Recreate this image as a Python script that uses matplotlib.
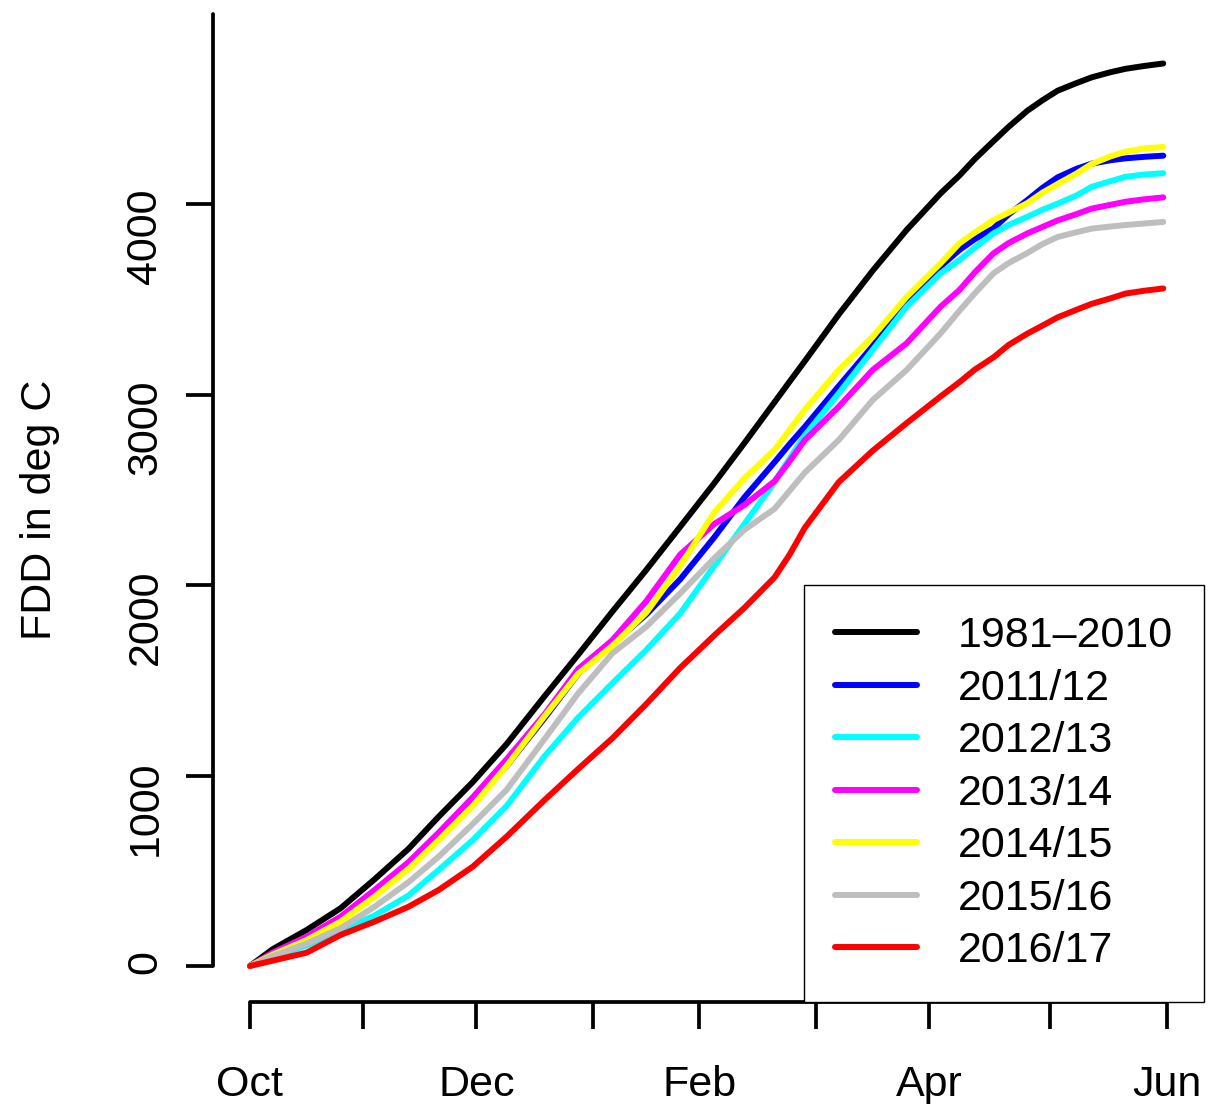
import matplotlib
matplotlib.use('Agg')
import matplotlib.pyplot as plt

plt.rcParams['font.family'] = ['Liberation Sans', 'DejaVu Sans']

# days since 1 October
days = [0, 6, 15, 24, 33, 42, 50, 59, 68, 78, 87, 96, 105, 114, 123, 131, 139, 143,
        147, 156, 165, 174, 183, 188, 192, 197, 201, 206, 210, 214, 219, 223, 228,
        232, 237, 242]

fdd_1981_2010 = [0, 88, 189, 303, 455, 615, 784, 965, 1165, 1415, 1635, 1860, 2079, 2306,
                 2534, 2745, 2960, 3068, 3175, 3420, 3650, 3864, 4056, 4150, 4235, 4330,
                 4405, 4490, 4545, 4595, 4635, 4665, 4692, 4710, 4725, 4738]
fdd_2011 = [0, 65, 145, 245, 385, 525, 685, 860, 1050, 1300, 1535, 1690, 1845, 2030, 2250,
            2460, 2645, 2740, 2830, 3044, 3254, 3481, 3673, 3759, 3815, 3872, 3945, 4021,
            4085, 4140, 4185, 4212, 4230, 4240, 4248, 4254]
fdd_2012 = [0, 48, 108, 185, 265, 370, 504, 660, 840, 1100, 1305, 1484, 1659, 1851, 2100,
            2320, 2540, 2665, 2785, 3006, 3234, 3461, 3636, 3706, 3770, 3846, 3890, 3933,
            3970, 4002, 4045, 4090, 4120, 4143, 4155, 4162]
fdd_2013 = [0, 70, 154, 259, 399, 545, 700, 885, 1085, 1320, 1560, 1710, 1915, 2160, 2320,
            2420, 2545, 2650, 2760, 2936, 3129, 3269, 3461, 3549, 3640, 3741, 3795, 3846,
            3880, 3914, 3947, 3976, 3996, 4012, 4025, 4035]
fdd_2014 = [0, 60, 136, 233, 364, 510, 661, 840, 1050, 1310, 1535, 1680, 1855, 2100, 2380,
            2560, 2710, 2815, 2920, 3129, 3303, 3513, 3689, 3794, 3850, 3916, 3955, 4005,
            4060, 4105, 4160, 4210, 4250, 4275, 4292, 4300]
fdd_2015 = [0, 52, 118, 198, 311, 440, 574, 745, 925, 1190, 1432, 1641, 1781, 1956, 2140,
            2290, 2400, 2495, 2590, 2761, 2971, 3129, 3321, 3440, 3530, 3636, 3690, 3743,
            3790, 3827, 3852, 3871, 3882, 3890, 3898, 3906]
fdd_2016 = [0, 28, 70, 163, 233, 311, 399, 521, 679, 870, 1035, 1195, 1375, 1565, 1735,
            1880, 2040, 2160, 2300, 2540, 2705, 2850, 2990, 3065, 3130, 3195, 3260, 3320,
            3362, 3405, 3445, 3476, 3505, 3530, 3545, 3557]

labels = ['1981–2010', '2011/12', '2012/13', '2013/14', '2014/15', '2015/16', '2016/17']
colors = ['black', '#0000FF', '#00FFFF', '#FF00FF', '#FFFF00', '#BEBEBE', '#FF0000']
series = [fdd_1981_2010, fdd_2011, fdd_2012, fdd_2013, fdd_2014, fdd_2015, fdd_2016]

month_ticks = [0, 30, 60, 91, 119, 150, 180, 212, 243]
month_labels = ['Oct', '', 'Dec', '', 'Feb', '', 'Apr', '', 'Jun']
y_ticks = [0, 1000, 2000, 3000, 4000]

fig = plt.figure(figsize=(12.09, 11.04), dpi=100)
ax = fig.add_axes([0.17643, 0.09221, 0.81919, 0.88342])

for vals, col, lab in zip(series, colors, labels):
    ax.plot(days, vals, color=col, lw=4.3, label=lab,
            solid_capstyle='round', solid_joinstyle='round')

ax.set_xlim(-9.72, 252.72)
ax.set_ylim(-190, 4930)

ax.spines['top'].set_visible(False)
ax.spines['right'].set_visible(False)
for s in ['left', 'bottom']:
    ax.spines[s].set_linewidth(2.7)
    ax.spines[s].set_capstyle('round')
ax.spines['left'].set_bounds(0, 5000)
ax.spines['bottom'].set_bounds(0, 243)

ax.set_xticks(month_ticks)
ax.set_xticklabels(month_labels)
ax.set_yticks(y_ticks)
ax.set_yticklabels([str(v) for v in y_ticks])
ax.tick_params(length=19.5, width=2.7, labelsize=31)
ax.tick_params(axis='y', labelrotation=90, pad=15)
ax.tick_params(axis='x', pad=26)

ax.set_ylabel('FDD in deg C', fontsize=31)
ax.yaxis.set_label_coords(-0.155, 0.5047)

leg = ax.legend(loc='lower right', bbox_to_anchor=(1, 0), borderaxespad=0,
                frameon=True, fancybox=False, edgecolor='black', framealpha=1,
                fontsize=31, handlelength=1.9, handletextpad=0.95,
                borderpad=0.72, labelspacing=0.29)
leg.get_frame().set_linewidth(1.0)

fig.savefig('out.png', dpi=100, facecolor='white')
